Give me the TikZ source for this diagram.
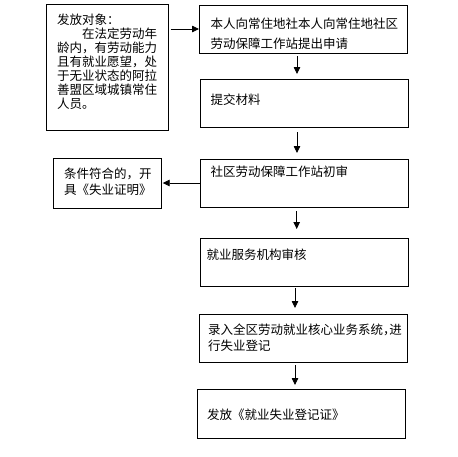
\documentclass[tikz,border=0pt]{standalone}
\usepackage{fontspec}
\newfontfamily\cjk{Noto Sans CJK SC}
\usetikzlibrary{arrows.meta}
\begin{document}
\begin{tikzpicture}[x=1pt,y=-1pt,
  box/.style={draw=black,line width=0.8pt,inner sep=0pt,outer sep=0pt},
  txt/.style={anchor=base west,inner sep=0pt,outer sep=0pt,align=left,
    font=\cjk\fontsize{12.5}{14}\selectfont},
  arr/.style={draw=black,line width=0.8pt,-{Triangle[length=7pt,width=6.5pt]}}]
\fill[white] (0,0) rectangle (458,456);
\useasboundingbox (0,0) rectangle (458,456);
% boxes
\node[box,minimum width=122pt,minimum height=126pt] (L)  at (107,67) {};
\node[box,minimum width=208pt,minimum height=48pt]  (b1) at (303,29) {};
\node[box,minimum width=208pt,minimum height=48pt]  (b2) at (304,103) {};
\node[box,minimum width=208pt,minimum height=48pt]  (b3) at (304,183) {};
\node[box,minimum width=208pt,minimum height=48pt]  (b4) at (304,262) {};
\node[box,minimum width=208pt,minimum height=48pt]  (b5) at (303,338) {};
\node[box,minimum width=208pt,minimum height=49pt]  (b6) at (301,413.5) {};
\node[box,minimum width=108pt,minimum height=50pt]  (C)  at (107,183) {};
% texts
\node[txt,text width=110pt] (tL) at (57,24) {发放对象：\\\hspace*{2em}在法定劳动年\\龄内，有劳动能力\\且有就业愿望，处\\于无业状态的阿拉\\善盟区域城镇常住\\人员。};
\node[txt,text width=200pt,font=\cjk\fontsize{12.5}{20}\selectfont] (t1) at (210.7,28) {本人向常住地社本人向常住地社区\\劳动保障工作站提出申请};
\node[txt] (t2) at (210.7,104.75) {提交材料};
\node[txt] (t3) at (210.7,176.5) {社区劳动保障工作站初审};
\node[txt] (t4) at (206.7,259.75) {就业服务机构审核};
\node[txt,text width=200pt,font=\cjk\fontsize{12.5}{16}\selectfont] (t5) at (208,334) {录入全区劳动就业核心业务系统{\addfontfeatures{RawFeature=+halt}，}进\\行失业登记};
\node[txt] (t6) at (207,419.75) {发放《就业失业登记证》};
\node[txt,text width=100pt,font=\cjk\fontsize{12.5}{16.7}\selectfont] (tC) at (64,178) {条件符合的，开\\具《失业证明》};
% connectors
\draw[arr,shorten <=2.5pt] (L.east |- b1.west) -- (b1.west);
\draw[arr,shorten <=3pt,shorten >=5pt] ([xshift=-6pt]b1.south) -- ([xshift=-6pt]b1.south |- b2.north);
\draw[arr,shorten <=5pt,shorten >=6pt] ([xshift=-7pt]b2.south) -- ([xshift=-7pt]b2.south |- b3.north);
\draw[arr,shorten <=4pt,shorten >=9pt] ([xshift=-7.3pt]b3.south) -- ([xshift=-7.3pt]b3.south |- b4.north);
\draw[arr,shorten <=2pt,shorten >=6pt] ([xshift=-9pt]b4.south) -- ([xshift=-9pt]b4.south |- b5.north);
\draw[arr,shorten <=3pt,shorten >=4pt] ([xshift=-8pt]b5.south) -- ([xshift=-8pt]b5.south |- b6.north);
\draw[arr,shorten >=1.7pt] (b3.west) -- (C.east);
\end{tikzpicture}
\end{document}
